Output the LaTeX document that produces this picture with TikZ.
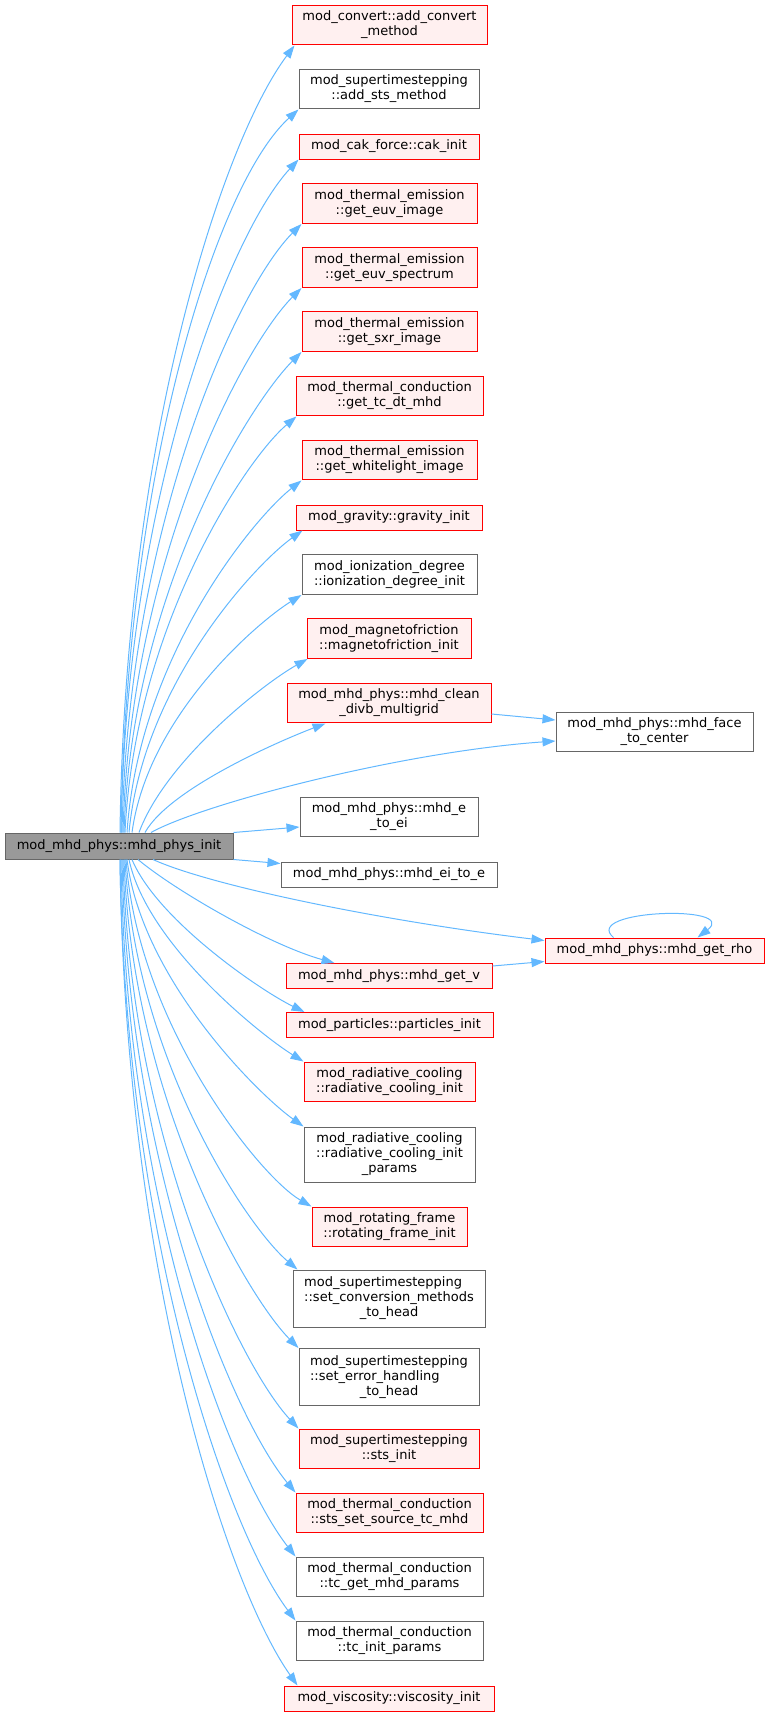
\documentclass[tikz,border=0pt]{standalone}
\usepackage{fontspec}
\setmainfont{DejaVu Sans}
\usepackage{xcolor}
\usepackage{tikz}
\usetikzlibrary{arrows.meta}
\definecolor{edgeblue}{HTML}{63B8FF}
\definecolor{nodered}{HTML}{FF0000}
\definecolor{nodepink}{HTML}{FFF0F0}
\definecolor{nodegray}{HTML}{666666}
\definecolor{rootgray}{HTML}{999999}

\begin{document}
\begin{tikzpicture}[x=1pt, y=-1pt,
  fn/.style={rectangle, draw, line width=1pt, font=\fontsize{13pt}{15pt}\selectfont, align=center, inner xsep=3pt, inner ysep=6pt, minimum height=25pt},
  redfn/.style={fn, draw=nodered, fill=nodepink},
  grayfn/.style={fn, draw=nodegray, fill=white},
  mainfn/.style={fn, draw=nodegray, fill=rootgray},
  call/.style={draw=edgeblue, line width=1pt, -{Triangle[length=13pt,width=9pt]}}]
\useasboundingbox (0,0) rectangle (769,1717);
\node[mainfn, minimum width=228pt, minimum height=26pt] (init) at (119,846) {mod\_mhd\_phys::mhd\_phys\_init};
\node[redfn, minimum width=195pt] (convert) at (389.5,25) {mod\_convert::add\_convert\\\_method};
\node[grayfn, minimum width=180pt] (addsts) at (389,89) {mod\_supertimestepping\\::add\_sts\_method};
\node[redfn, minimum width=180pt] (cak) at (389,146.5) {mod\_cak\_force::cak\_init};
\node[redfn, minimum width=175pt] (euvimage) at (389.5,203.5) {mod\_thermal\_emission\\::get\_euv\_image};
\node[redfn, minimum width=175pt] (euvspec) at (389.5,267.5) {mod\_thermal\_emission\\::get\_euv\_spectrum};
\node[redfn, minimum width=175pt] (sxr) at (389.5,331.5) {mod\_thermal\_emission\\::get\_sxr\_image};
\node[redfn, minimum width=187pt] (tcdt) at (389.5,396) {mod\_thermal\_conduction\\::get\_tc\_dt\_mhd};
\node[redfn, minimum width=175pt] (whitelight) at (389.5,460) {mod\_thermal\_emission\\::get\_whitelight\_image};
\node[redfn, minimum width=186pt] (gravity) at (389,517.5) {mod\_gravity::gravity\_init};
\node[grayfn, minimum width=175pt] (ionization) at (389.5,574.5) {mod\_ionization\_degree\\::ionization\_degree\_init};
\node[redfn, minimum width=164pt] (magnetofriction) at (389,638.5) {mod\_magnetofriction\\::magnetofriction\_init};
\node[redfn, minimum width=204pt] (cleandivb) at (389,703) {mod\_mhd\_phys::mhd\_clean\\\_divb\_multigrid};
\node[grayfn, minimum width=197pt] (facecenter) at (654.5,732) {mod\_mhd\_phys::mhd\_face\\\_to\_center};
\node[grayfn, minimum width=178pt] (etoei) at (389,817) {mod\_mhd\_phys::mhd\_e\\\_to\_ei};
\node[grayfn, minimum width=216pt] (eitoe) at (389,874.5) {mod\_mhd\_phys::mhd\_ei\_to\_e};
\node[redfn, minimum width=219pt] (getrho) at (654.5,950.5) {mod\_mhd\_phys::mhd\_get\_rho};
\node[redfn, minimum width=206pt] (getv) at (389,976) {mod\_mhd\_phys::mhd\_get\_v};
\node[redfn, minimum width=207pt] (particles) at (389.5,1025) {mod\_particles::particles\_init};
\node[redfn, minimum width=171pt] (radcool) at (389.5,1082) {mod\_radiative\_cooling\\::radiative\_cooling\_init};
\node[grayfn, minimum width=171pt, minimum height=55pt] (radparams) at (389.5,1154.5) {mod\_radiative\_cooling\\::radiative\_cooling\_init\\\_params};
\node[redfn, minimum width=155pt] (rotframe) at (389.5,1227) {mod\_rotating\_frame\\::rotating\_frame\_init};
\node[grayfn, minimum width=192pt, minimum height=55pt] (convhead) at (389,1298.5) {\begin{tabular}{@{}l@{}}mod\_supertimestepping\\::set\_conversion\_methods\\\multicolumn{1}{@{}c@{}}{\_to\_head}\end{tabular}};
\node[grayfn, minimum width=180pt, minimum height=55pt] (errhead) at (389,1377) {\begin{tabular}{@{}l@{}}mod\_supertimestepping\\::set\_error\_handling\\\multicolumn{1}{@{}c@{}}{\_to\_head}\end{tabular}};
\node[redfn, minimum width=180pt] (stsinit) at (389,1449) {mod\_supertimestepping\\::sts\_init};
\node[redfn, minimum width=187pt] (stssource) at (389.5,1513) {mod\_thermal\_conduction\\::sts\_set\_source\_tc\_mhd};
\node[grayfn, minimum width=187pt] (tcmhd) at (389.5,1577) {mod\_thermal\_conduction\\::tc\_get\_mhd\_params};
\node[grayfn, minimum width=187pt] (tcinit) at (389.5,1641) {mod\_thermal\_conduction\\::tc\_init\_params};
\node[redfn, minimum width=210pt] (viscosity) at (389,1698.5) {mod\_viscosity::viscosity\_init};
% calls above the root
\draw[call] ([xshift=1pt]init.north) .. controls +(5,-394) and +(-72,96) .. ([xshift=3pt]convert.south west);
\draw[call] ([xshift=2pt]init.north) .. controls +(5,-362) and +(-82,74) .. (addsts.south west);
\draw[call] ([xshift=2pt]init.north) .. controls +(5,-338) and +(-68,73) .. (cak.south west);
\draw[call] ([xshift=3pt]init.north) .. controls +(6,-305) and +(-65,65) .. (euvimage.south west);
\draw[call] ([xshift=4pt]init.north) .. controls +(7,-273) and +(-58,58) .. (euvspec.south west);
\draw[call] ([xshift=5pt]init.north) .. controls +(8,-242) and +(-51,51) .. (sxr.south west);
\draw[call] ([xshift=6pt]init.north) .. controls +(10,-208) and +(-50,42) .. ([xshift=1pt]tcdt.south west);
\draw[call] ([xshift=8pt]init.north) .. controls +(12,-177) and +(-47,37) .. (whitelight.south west);
\draw[call] ([xshift=10pt]init.north) .. controls +(14,-150) and +(-45,32) .. ([xshift=7pt]gravity.south west);
\draw[call] ([xshift=13pt]init.north) .. controls +(16,-118) and +(-42,26) .. (ionization.south west);
\draw[call] ([xshift=20pt]init.north) .. controls +(27,-73) and +(-43,24) .. ([xshift=1pt]magnetofriction.south west);
\draw[call] ([xshift=26pt]init.north) .. controls +(25,-45) and +(-40,15) .. ([xshift=39pt]cleandivb.south west);
\draw[call] ([xshift=32pt]init.north) .. controls +(50,-28) and +(-156,11) .. ([yshift=-9pt]facecenter.west);
\draw[call] ([yshift=-11pt]cleandivb.east) -- ([yshift=12pt]facecenter.west);
% calls to the side
\draw[call] (init.north east) -- ([yshift=-10pt]etoei.west);
\draw[call] (init.south east) -- ([yshift=11pt]eitoe.west);
\draw[call] ([xshift=34pt]init.south) .. controls +(57,26) and +(-165,-20) .. ([yshift=10pt]getrho.west);
\draw[call] ([xshift=19pt]init.south) .. controls +(37,31) and +(-65,-18) .. ([xshift=49pt]getv.north west);
\draw[call] ([yshift=10pt]getv.east) -- ([yshift=-11pt]getrho.west);
\draw[call] ([xshift=-41pt]getrho.north) .. controls +(-33,-28) and +(43,-33) .. ([xshift=43pt]getrho.north);
% calls below the root
\draw[call] ([xshift=13pt]init.south) .. controls +(25,60) and +(-45,-22) .. ([xshift=19pt]particles.north west);
\draw[call] ([xshift=10pt]init.south) .. controls +(18,85) and +(-42,-26) .. (radcool.north west);
\draw[call] ([xshift=8pt]init.south) .. controls +(15,120) and +(-45,-32) .. (radparams.north west);
\draw[call] ([xshift=7pt]init.south) .. controls +(12,165) and +(-52,-30) .. (rotframe.north west);
\draw[call] ([xshift=6pt]init.south) .. controls +(10,200) and +(-50,-42) .. ([xshift=5pt]convhead.north west);
\draw[call] ([xshift=5pt]init.south) .. controls +(8,240) and +(-51,-51) .. (errhead.north west);
\draw[call] ([xshift=4pt]init.south) .. controls +(7,280) and +(-58,-62) .. (stsinit.north west);
\draw[call] ([xshift=3pt]init.south) .. controls +(6,310) and +(-61,-73) .. (stssource.north west);
\draw[call] ([xshift=2pt]init.south) .. controls +(5,345) and +(-65,-83) .. (tcmhd.north west);
\draw[call] ([xshift=1pt]init.south) .. controls +(5,375) and +(-69,-92) .. (tcinit.north west);
\draw[call] ([xshift=1pt]init.south) .. controls +(5,410) and +(-72,-102) .. ([xshift=14pt]viscosity.north west);
\end{tikzpicture}
\end{document}
